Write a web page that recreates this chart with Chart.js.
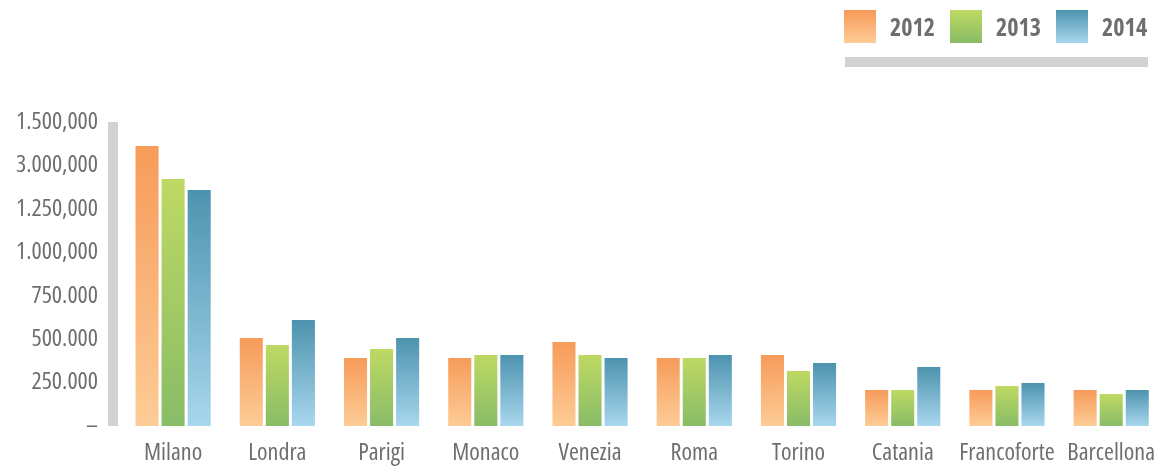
<!DOCTYPE html>
<html>
<head>
<meta charset="utf-8">
<script src="https://cdn.jsdelivr.net/npm/chart.js@4"></script>
<style>
    html, body { margin: 0; padding: 0; background: #fff; overflow: hidden; }
    #wrap { position: relative; width: 1168px; height: 470px; }
    #legend {
        position: absolute; left: 844px; top: 10px;
        display: flex; align-items: center;
        font-family: 'Open Sans', sans-serif; font-stretch: condensed;
        font-weight: bold; font-size: 24px; color: #6d6e71;
    }
    #legend .sw { width: 32px; height: 33px; margin-right: 14px; }
    #legend .lb { margin-right: 15px; }
    #legendBar {
        position: absolute; left: 845px; top: 57px;
        width: 303px; height: 10px; background: #d1d2d4;
    }
</style>
</head>
<body>
<div id="wrap">
    <canvas id="cityChart" width="1168" height="470"></canvas>
    <div id="legend"></div>
    <div id="legendBar"></div>
</div>
<script>
// Data
const cities = ['Milano', 'Londra', 'Parigi', 'Monaco', 'Venezia', 'Roma', 'Torino', 'Catania', 'Francoforte', 'Barcellona'];
const years = ['2012', '2013', '2014'];
const values2012 = [1612000, 507000, 391000, 391000, 484000, 391000, 409000, 207000, 207000, 207000];
const values2013 = [1422000, 466000, 443000, 409000, 409000, 391000, 317000, 207000, 230000, 184000];
const values2014 = [1359000, 610000, 507000, 409000, 391000, 409000, 363000, 340000, 248000, 207000];
// y tick labels, bottom to top, as printed in the reference
const tickLabels = ['–', '250.000', '500.000', '750.000', '1.000,000', '1.250,000', '3.000,000', '1.500,000'];

const FONT = "'Open Sans', sans-serif";
const TEXT_GREY = '#6d6e71';

// top colour, bottom colour
const palette = [
    ['#f79b5a', '#fdcc96'],
    ['#bed963', '#88bc67'],
    ['#4d93ae', '#a8d7ee']
];

// Per-bar vertical gradient
const barGradient = (idx) => (context) => {
    const chart = context.chart;
    if (!chart.chartArea || context.raw === undefined) return palette[idx][0];
    const y = chart.scales.y;
    const top = y.getPixelForValue(context.raw);
    const base = y.getPixelForValue(0);
    const g = chart.ctx.createLinearGradient(0, top, 0, base);
    g.addColorStop(0, palette[idx][0]);
    g.addColorStop(1, palette[idx][1]);
    return g;
};

// Thick grey bar left of the plot, spanning the y scale
const axisBar = {
    id: 'axisBar',
    beforeDatasetsDraw(chart) {
        const y = chart.scales.y;
        const ctx = chart.ctx;
        const left = chart.chartArea.left;
        const top = y.getPixelForValue(y.max);
        const bottom = y.getPixelForValue(0);
        ctx.save();
        ctx.fillStyle = '#d1d2d4';
        ctx.fillRect(left - 13, top, 10, bottom - top);
        ctx.restore();
    }
};

const seriesValues = [values2012, values2013, values2014];

// 'condensed' goes into the font shorthand as font-stretch
const tickFont = { family: FONT, size: 24, weight: '400 condensed' };

const chart = new Chart(document.getElementById('cityChart'), {
    type: 'bar',
    data: {
        labels: cities,
        datasets: years.map((yr, i) => ({
            label: yr,
            data: seriesValues[i],
            backgroundColor: barGradient(i),
            borderWidth: 0,
            barPercentage: 0.885,
            categoryPercentage: 0.75
        }))
    },
    options: {
        responsive: false,
        animation: false,
        layout: { padding: { top: 122, right: 0, bottom: 0, left: 0 } },
        plugins: {
            legend: { display: false },
            tooltip: { enabled: false }
        },
        scales: {
            x: {
                grid: { display: false, drawTicks: false },
                border: { display: false },
                ticks: {
                    font: tickFont,
                    color: TEXT_GREY,
                    padding: 13,
                    maxRotation: 0,
                    autoSkip: false
                },
                afterFit: (scale) => { scale.height = 44; }
            },
            y: {
                min: 0,
                max: 1750000,
                grid: { display: false, drawTicks: false },
                border: { display: false },
                ticks: {
                    stepSize: 250000,
                    font: tickFont,
                    color: TEXT_GREY,
                    padding: 23,
                    callback: (value, index) => tickLabels[index]
                },
                afterFit: (scale) => { scale.width = 121; }
            }
        }
    },
    plugins: [axisBar]
});

// HTML legend with gradient swatches
const legendEl = document.getElementById('legend');
years.forEach((yr, i) => {
    const sw = document.createElement('div');
    sw.className = 'sw';
    sw.style.background = 'linear-gradient(' + palette[i][0] + ', ' + palette[i][1] + ')';
    const lb = document.createElement('div');
    lb.className = 'lb';
    lb.textContent = yr;
    legendEl.appendChild(sw);
    legendEl.appendChild(lb);
});
</script>
</body>
</html>
